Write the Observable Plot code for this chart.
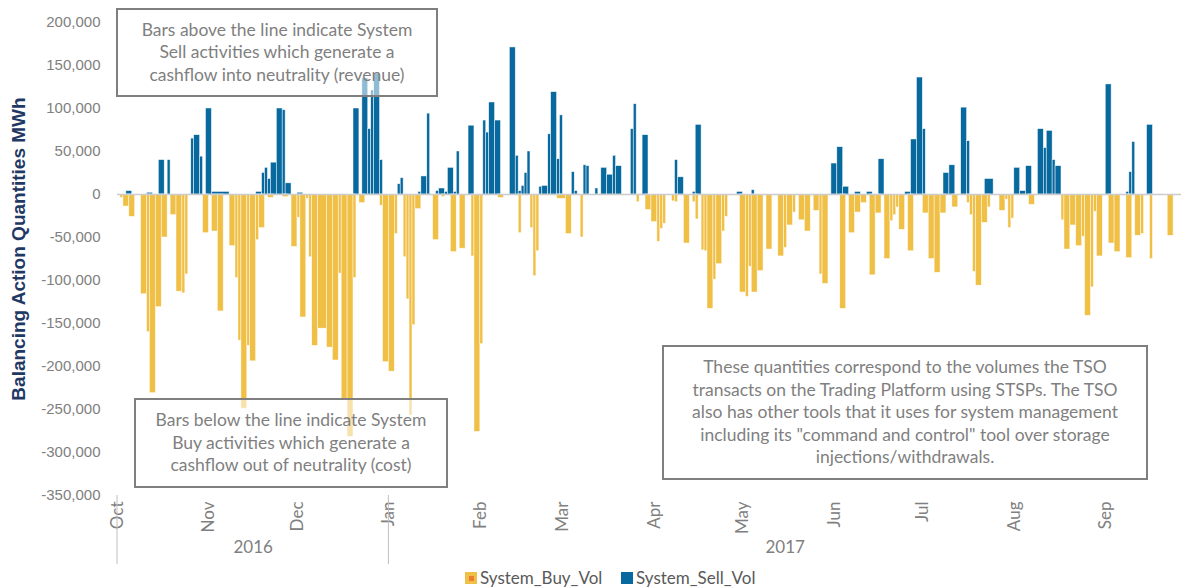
<!DOCTYPE html>
<html><head><meta charset="utf-8">
<script src="https://cdn.jsdelivr.net/npm/d3@7"></script>
<script src="https://cdn.jsdelivr.net/npm/@observablehq/plot@0.6"></script>
<style>
body{margin:0;background:#fff;}
#wrap{position:relative;width:1181px;height:588px;overflow:hidden;background:#fff;}
#chart svg{display:block;}
.note{position:absolute;box-sizing:border-box;border:2px solid #7f7f7f;background:rgba(255,255,255,0.55);color:#7f7f7f;font-family:Lato,"Open Sans",sans-serif;font-size:17.5px;line-height:22.6px;text-align:center;display:flex;align-items:center;justify-content:center;}
#legend{position:absolute;left:0;top:565px;width:1181px;height:23px;font-family:Lato,sans-serif;font-size:17px;color:#595959;}
#legend .item{position:absolute;top:2px;display:flex;align-items:center;white-space:nowrap;}
#legend .sw{width:12px;height:12px;margin-right:3px;position:relative;}
</style></head>
<body>
<div id="wrap">
  <div id="chart"></div>
  <div class="note" style="left:116px;top:8px;width:322px;height:89px;">Bars above the line indicate System<br>Sell activities which generate a<br>cashflow into neutrality (revenue)</div>
  <div class="note" style="left:134px;top:398px;width:314px;height:90px;">Bars below the line indicate System<br>Buy activities which generate a<br>cashflow out of neutrality (cost)</div>
  <div class="note" style="left:662px;top:345px;width:486px;height:135px;">These quantities correspond to the volumes the TSO<br>transacts on the Trading Platform using STSPs. The TSO<br>also has other tools that it uses for system management<br>including its "command and control" tool over storage<br>injections/withdrawals.</div>
  <div id="legend"></div>
</div>
<script>
// day offsets are counted from 1 Oct 2016; each bar spans [start, end)
const buyStart = [1,2,4,8,10,11,13,15,18,20,22,23,29,32,34,38,40,41,42,44,45,47,48,51,56,59,61,62,64,65,66,68,71,73,75,76,78,80,82,89,90,92,94,97,98,99,100,101,107,110,113,116,120,121,123,129,136,140,141,142,149,152,157,176,179,181,183,184,185,188,189,192,195,196,198,199,200,202,203,205,206,211,213,214,215,217,220,224,226,227,229,231,233,236,238,239,245,248,250,252,255,257,260,262,263,264,265,268,273,275,277,279,283,288,289,290,291,293,295,299,301,302,303,309,320,321,323,325,327,328,330,331,332,336,338,342,345,347,350,356];
const buyEnd   = [2,4,6,10,11,13,15,17,20,22,23,24,31,34,36,40,41,42,44,45,47,48,50,53,58,61,62,64,65,66,68,71,73,75,76,78,80,81,84,90,92,94,95,98,99,100,101,103,109,111,115,118,121,123,124,131,137,141,142,143,152,154,158,177,181,183,184,185,186,189,190,194,196,197,199,200,202,203,205,206,207,213,214,215,217,219,222,226,227,229,230,233,235,238,239,241,247,250,252,254,257,259,262,263,264,265,267,270,275,277,279,281,285,289,290,291,293,295,296,301,302,303,304,311,321,323,325,327,328,330,331,332,334,338,340,344,347,348,351,358];
const buyVol   = [-4000,-14000,-26000,-116000,-160000,-231000,-131000,-50000,-24000,-113000,-115000,-93000,-45000,-43000,-136000,-60000,-97000,-170000,-249000,-176000,-194000,-53000,-39000,-4000,-3000,-61000,-27000,-143000,-5000,-73000,-176000,-156000,-178000,-193000,-92000,-239000,-282000,-97000,-10000,-13000,-195000,-206000,-46000,-73000,-122000,-257000,-152000,-17000,-53000,-3000,-67000,-63000,-72000,-276000,-174000,-4000,-45000,-39000,-95000,-66000,-5000,-46000,-50000,-9000,-18000,-32000,-55000,-40000,-34000,-8000,-9000,-57000,-9000,-29000,-65000,-66000,-133000,-99000,-81000,-43000,-26000,-114000,-119000,-84000,-114000,-89000,-64000,-72000,-62000,-36000,-21000,-30000,-43000,-19000,-93000,-104000,-133000,-45000,-21000,-10000,-94000,-22000,-75000,-31000,-24000,-15000,-41000,-66000,-22000,-75000,-91000,-22000,-15000,-10000,-24000,-90000,-106000,-33000,-15000,-19000,-6000,-39000,-28000,-12000,-30000,-64000,-36000,-60000,-49000,-141000,-108000,-20000,-72000,-57000,-67000,-74000,-48000,-46000,-75000,-48000];

const sellStart = [3,10,14,17,25,26,28,30,32,47,49,50,51,52,54,56,57,61,80,83,85,86,87,89,95,96,102,103,105,108,109,111,112,114,115,119,124,125,126,128,133,135,136,137,138,139,143,144,146,147,149,150,154,155,158,159,162,164,166,168,169,174,175,178,189,190,195,196,210,215,242,244,246,250,254,258,267,269,271,273,280,282,286,288,294,304,306,308,312,314,315,317,318,335,342,343,344,349];
const sellEnd   = [5,12,16,18,26,28,29,32,38,49,50,51,52,54,56,57,59,63,82,85,86,87,89,90,96,97,103,105,106,109,111,112,114,115,116,121,125,126,128,130,135,136,137,138,139,140,144,146,147,149,150,151,155,156,159,160,163,166,168,169,171,175,176,180,190,192,196,198,212,216,244,246,248,252,256,260,269,271,273,274,282,284,288,289,297,306,308,310,314,315,317,318,320,337,343,344,345,351];
const sellVol   = [4000,2000,40000,40000,65000,69000,44000,100000,3000,3000,25000,31000,18000,37000,100000,98000,13000,2000,100000,135000,76000,121000,140000,40000,12000,19000,3000,21000,94000,4000,7000,3000,31000,3000,50000,80000,86000,72000,107000,86000,171000,45000,4000,10000,25000,50000,9000,10000,70000,119000,41000,92000,26000,4000,34000,33000,7000,31000,23000,45000,33000,76000,105000,69000,40000,20000,3000,81000,3000,5000,36000,55000,9000,3000,3000,41000,3000,64000,136000,76000,25000,34000,101000,62000,18000,31000,4000,33000,76000,54000,74000,40000,33000,128000,3000,26000,61000,81000];

const yTicks = [200000,150000,100000,50000,0,-50000,-100000,-150000,-200000,-250000,-300000,-350000];
const monthLabels = ["Oct","Nov","Dec","Jan","Feb","Mar","Apr","May","Jun","Jul","Aug","Sep"];
const yearLabels = ["2016","2017"];
const seriesNames = ["System_Buy_Vol","System_Sell_Vol"];

const origin = new Date(Date.UTC(2016, 9, 1));
const day = i => d3.utcDay.offset(origin, i);
const xEnd = new Date(origin.getTime() + 360.68 * 864e5);
const buy = buyStart.map((s, i) => ({x1: day(s), x2: day(buyEnd[i]), v: buyVol[i]}));
const sell = sellStart.map((s, i) => ({x1: day(s), x2: day(sellEnd[i]), v: sellVol[i]}));
const monthTicks = monthLabels.map((m, i) => d3.utcMonth.offset(origin, i));
const jan1 = new Date(Date.UTC(2017, 0, 1));
const years = [
  {label: yearLabels[0], x: new Date((origin.getTime() + jan1.getTime()) / 2)},
  {label: yearLabels[1], x: new Date((jan1.getTime() + xEnd.getTime()) / 2)}
];
const fmt = d => (d < 0 ? "-" : "") + d3.format(",")(Math.abs(d));
const BLUE = "#08699f", GOLD = "#f0bf45";

const chart = Plot.plot({
  width: 1181, height: 565,
  marginLeft: 117, marginRight: 0, marginTop: 22, marginBottom: 70,
  style: {fontFamily: "Lato, sans-serif", fontSize: "16px", color: "#7f7f7f", background: "white", overflow: "visible"},
  x: {type: "utc", domain: [origin, xEnd]},
  y: {domain: [-350000, 200000]},
  marks: [
    Plot.rect(sell, {x1: "x1", x2: "x2", y1: () => 0, y2: "v", fill: BLUE, stroke: "white", strokeWidth: 0.6, strokeOpacity: 0.8}),
    Plot.rect(buy, {x1: "x1", x2: "x2", y1: () => 0, y2: "v", fill: GOLD, stroke: "white", strokeWidth: 0.6, strokeOpacity: 0.8}),
    Plot.ruleY([0], {stroke: "#cccccc", strokeWidth: 1.6}),
    Plot.axisY({ticks: yTicks, tickSize: 0, tickPadding: 17, tickFormat: fmt, label: null,
      fontFamily: "Liberation Sans, Arial, sans-serif", fontSize: 15, fill: "#808080"}),
    Plot.axisX({ticks: monthTicks, tickFormat: d3.utcFormat("%b"), tickRotate: -90, tickSize: 0, tickPadding: 6, label: null,
      fontSize: 17, fill: "#808080"}),
    Plot.text(years, {x: "x", text: "label", frameAnchor: "bottom", dy: 57, fontSize: 17, fill: "#808080"})
  ]
});
document.getElementById("chart").appendChild(chart);

// axis title and year separators
const svg = d3.select(chart);
const xs = chart.scale("x");
[origin, jan1].forEach(d => {
  const px = xs.apply(d);
  svg.append("line").attr("x1", px).attr("x2", px).attr("y1", 495).attr("y2", 564)
    .attr("stroke", "#bfbfbf").attr("stroke-width", 1);
});
svg.append("text")
  .attr("transform", "translate(20,249) rotate(-90)")
  .attr("text-anchor", "middle").attr("dominant-baseline", "middle")
  .attr("font-family", "Liberation Sans, Arial, sans-serif").attr("font-weight", "bold")
  .attr("font-size", 19).attr("fill", "#1f3864")
  .text("Balancing Action Quantities MWh");

// legend
const legend = d3.select("#legend");
const i1 = legend.append("div").attr("class", "item").style("left", "465px");
const s1 = i1.append("div").attr("class", "sw").style("background", GOLD);
s1.append("div").style("position", "absolute").style("left", "4px").style("top", "4px")
  .style("width", "5px").style("height", "5px").style("background", "#ed7d31");
i1.append("span").text(seriesNames[0]);
const i2 = legend.append("div").attr("class", "item").style("left", "621px");
i2.append("div").attr("class", "sw").style("background", BLUE);
i2.append("span").text(seriesNames[1]);
</script>
</body></html>
